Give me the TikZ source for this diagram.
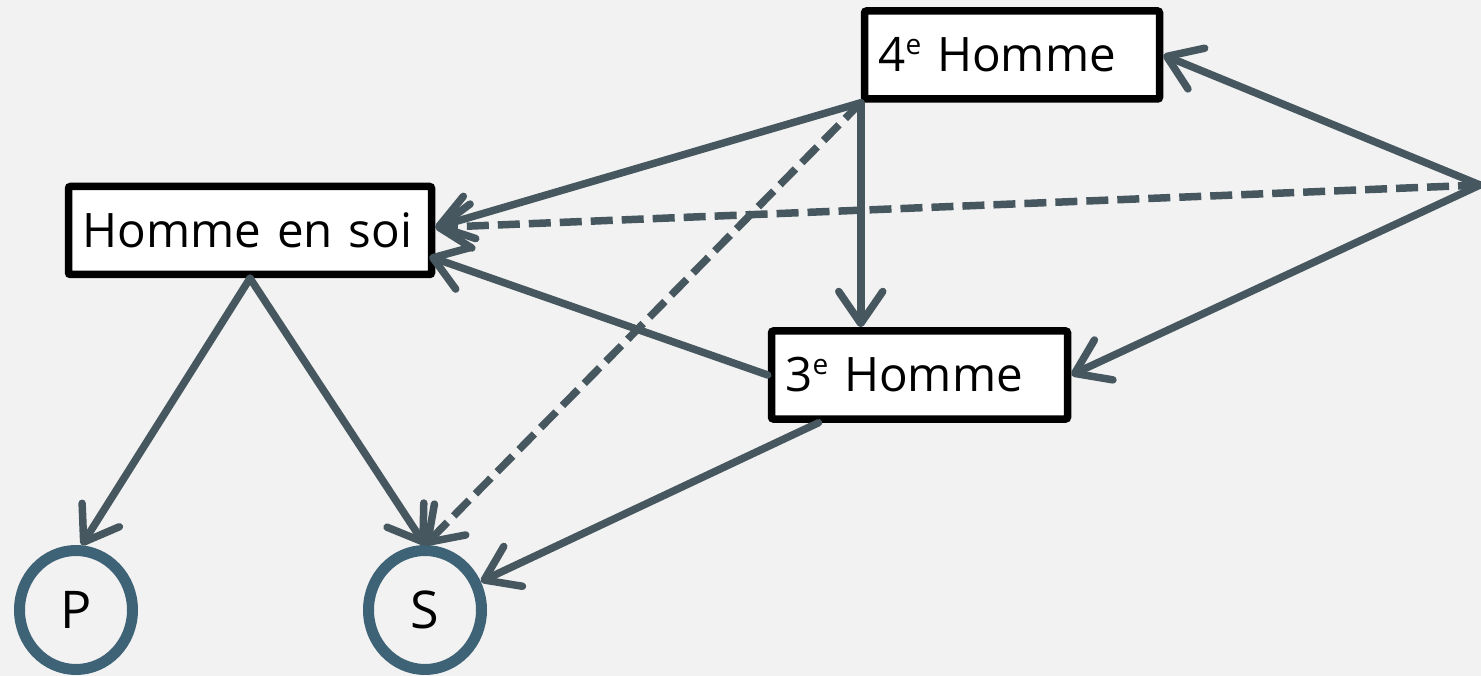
\documentclass[tikz,border=0pt]{standalone}
\usepackage{fontspec}
\setmainfont{Open Sans}
\usetikzlibrary{arrows.meta,shapes.geometric}
\definecolor{bg}{RGB}{242,242,242}
\definecolor{arr}{RGB}{71,87,95}
\definecolor{ringc}{RGB}{63,99,118}
\newcommand{\supe}{\raisebox{17pt}{\fontsize{28}{28}\selectfont e}}
\begin{document}
\begin{tikzpicture}[x=1pt,y=-1pt,
  box/.style={draw=black, line width=7.5pt, fill=white, rounded corners=2pt,
    inner xsep=14pt, inner ysep=0pt, align=left, minimum height=88pt,
    font=\fontsize{47.5}{47.5}\selectfont},
  ring/.style={ellipse, draw=ringc, line width=11pt, fill=bg,
    minimum width=113pt, minimum height=119pt, inner sep=0pt,
    font=\fontsize{52}{52}\selectfont},
  conn/.style={draw=arr, line width=7.5pt, line cap=round,
    -{Straight Barb[length=32pt,width=44pt,line cap=round,line join=round]}},
  dconn/.style={conn, line cap=butt, dash pattern=on 22pt off 9pt}
]
\fill[bg] (0,0) rectangle (1481,676);
\useasboundingbox (0,0) rectangle (1481,676);

\node[box, text width=267pt] (h4) at (1012,55) {\mbox{4\supe{} Homme}};
\node[box, text width=335pt] (hs) at (250,230.5) {\mbox{Homme en soi}};
\node[box, text width=268pt] (h3) at (919.5,375) {\mbox{3\supe{} Homme}};
\node[ring] (P) at (76,610) {P};
\node[ring] (S) at (425,610) {S};
\coordinate (R) at (1480,185);

\draw[conn] (h4.south west) -- ([yshift=3pt]hs.east);
\draw[dconn] (R) -- ([yshift=3pt]hs.east);
\draw[conn] (h4.south west) -- (h4.south west |- h3.north);
\draw[dconn] (h4.south west) -- (S.north);
\draw[conn] (R) -- (h4.east);
\draw[conn] (R) -- (h3.east);
\draw[conn] (h3.west) -- ([xshift=-6pt,yshift=-26pt]hs.east);
\draw[conn] ([xshift=-101pt]h3.south) -- (S.27);
\draw[conn] (hs.south) -- (P.85);
\draw[conn] (hs.south) -- (S.north);
\end{tikzpicture}
\end{document}
